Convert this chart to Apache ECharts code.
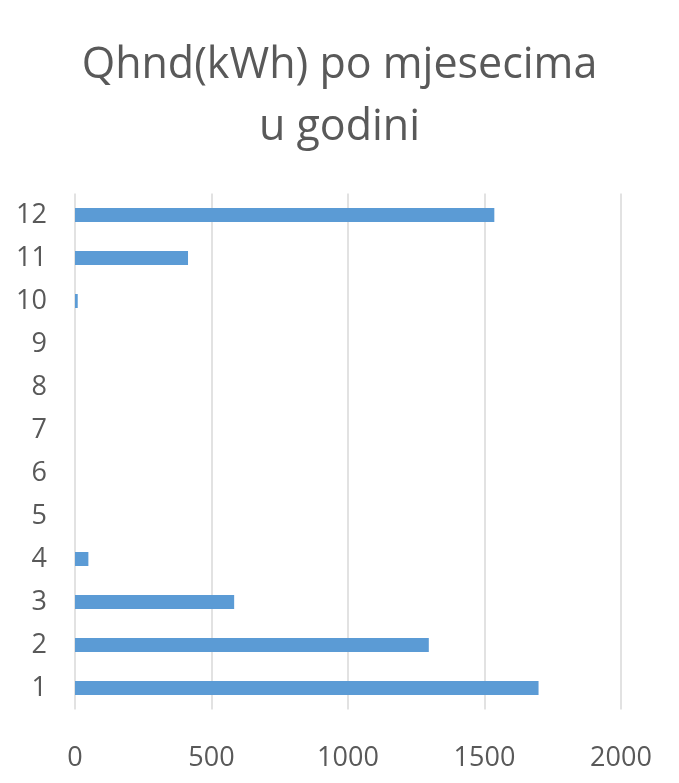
<!DOCTYPE html>
<html>
<head>
<meta charset="utf-8">
<script src="https://cdn.jsdelivr.net/npm/echarts@6/dist/echarts.min.js"></script>
<style>
  html, body { margin: 0; padding: 0; background: #fff; }
  #chart { width: 679px; height: 783px; }
</style>
</head>
<body>
<div id="chart"></div>
<script>
// mjeseci (odozdo prema gore)
const months = ['1', '2', '3', '4', '5', '6', '7', '8', '9', '10', '11', '12']
// Qhnd (kWh) po mjesecu
const qhnd = [1698, 1296, 583, 49, 0, 0, 0, 0, 0, 10, 414, 1536]
const xTicks = [0, 500, 1000, 1500, 2000]

const textColor = '#595959'
const font = '"Open Sans", "Noto Sans", sans-serif'

const myChart = echarts.init(document.getElementById('chart'))

const option = {
  backgroundColor: '#ffffff',
  animation: false,
  title: {
    text: 'Qhnd(kWh) po mjesecima\nu godini',
    left: 'center',
    top: 30,
    textStyle: {
      color: textColor,
      fontFamily: font,
      fontSize: 43,
      fontWeight: 'normal',
      lineHeight: 62
    }
  },
  grid: {
    left: 75,
    right: 58,
    top: 193.5,
    bottom: 73.5,
    containLabel: false
  },
  xAxis: {
    type: 'value',
    min: xTicks[0],
    max: xTicks[xTicks.length - 1],
    interval: 500,
    axisLine: { show: false },
    axisTick: { show: false },
    axisLabel: {
      color: textColor,
      fontFamily: font,
      fontSize: 27,
      margin: 35,
      formatter: (v) => String(v) // bez separatora tisućica
    },
    splitLine: {
      show: true,
      lineStyle: { color: '#d9d9d9', width: 1.5 }
    }
  },
  yAxis: {
    type: 'category',
    data: months,
    axisLine: { show: false },
    axisTick: { show: false },
    axisLabel: {
      color: textColor,
      fontFamily: font,
      fontSize: 27,
      margin: 28
    },
    splitLine: { show: false }
  },
  series: [
    {
      type: 'bar',
      data: qhnd,
      barWidth: 14,
      itemStyle: { color: '#5b9bd5' }
    }
  ]
}

myChart.setOption(option)
window.addEventListener('resize', () => myChart.resize())
</script>
</body>
</html>
